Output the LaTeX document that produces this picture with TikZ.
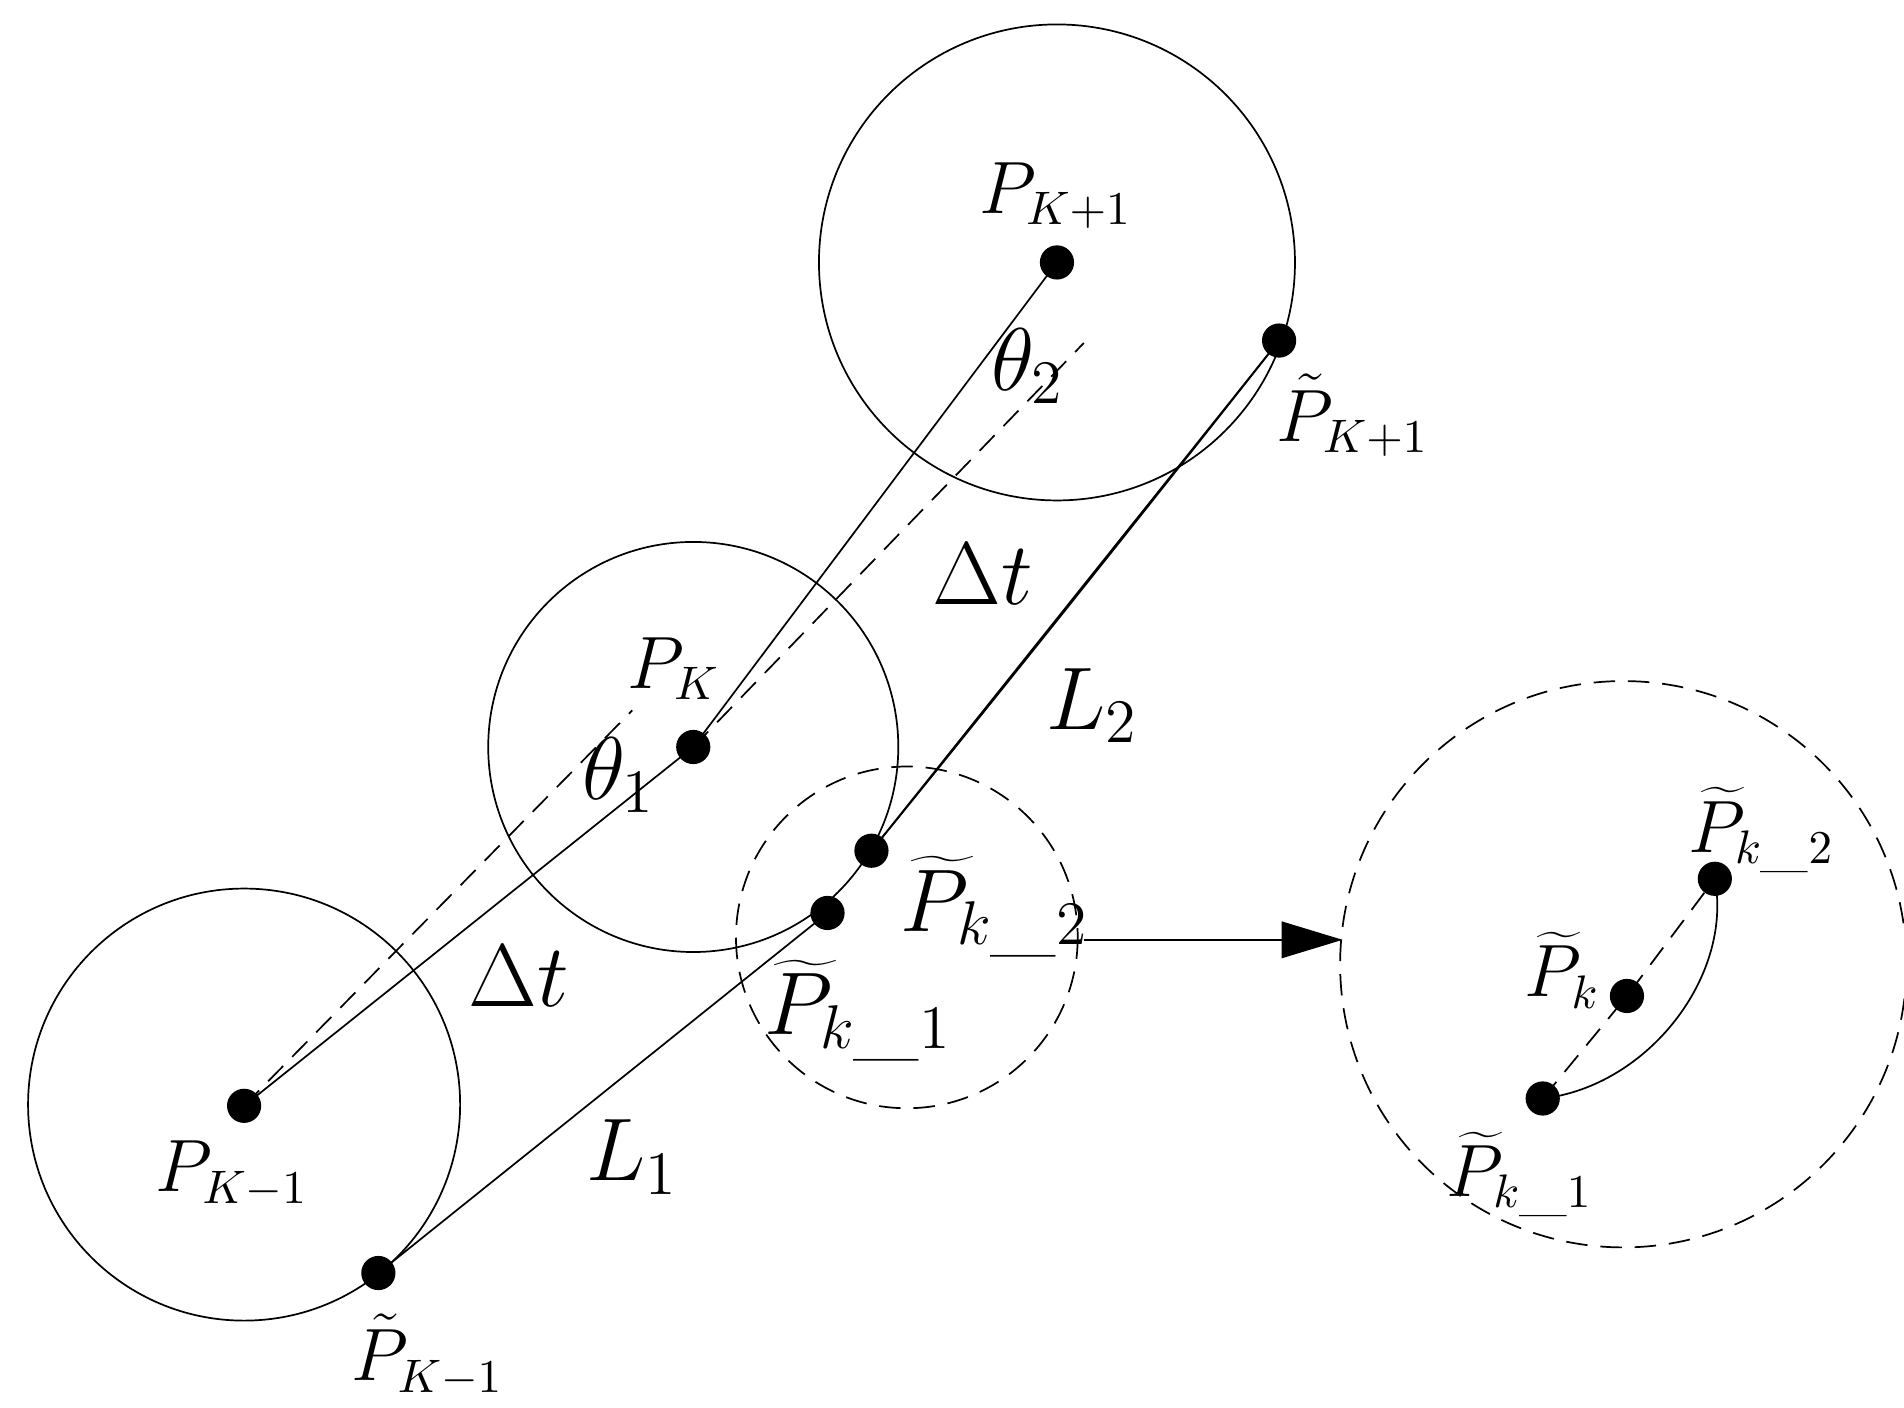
\documentclass[tikz,border=0pt]{standalone}
\usetikzlibrary{arrows.meta}
\begin{document}
\begin{tikzpicture}[x=0.01cm,y=-0.01cm,
  dot/.style={circle,fill=black,inner sep=0pt,minimum size=0.28cm},
  lab/.style={font=\fontsize{16}{19}\selectfont},
  big/.style={font=\fontsize{22}{26}\selectfont},
  dsh/.style={dash pattern=on 5pt off 3pt}]
\useasboundingbox (0,0) rectangle (1560,1153);
\draw (200,905) circle (177);
\draw (568,612) circle (168);
\draw (866,215) circle (195);
\draw[dsh] (743,768) circle (140);
\draw[dsh] (1330,790) circle (232);
\node[dot] (pkm) at (200,906) {};
\node[dot] (pk) at (568,612) {};
\node[dot] (pkp) at (866,215) {};
\node[dot] (tpkp) at (1048,279) {};
\node[dot] (tpkm) at (310,1043) {};
\node[dot] (pk2) at (714,697) {};
\node[dot] (pk1) at (678,748) {};
\node[dot] (rpk2) at (1405,720) {};
\node[dot] (rpk) at (1333,816) {};
\node[dot] (rpk1) at (1264,900) {};
\coordinate (e1) at (518,582);
\coordinate (e2) at (888,281);
\draw (pkm.center) -- (pk.center) -- (pkp.center);
\draw[dsh] (pkm.center) -- (e1);
\draw[dsh] (pk.center) -- (e2);
\draw (tpkm.center) -- (pk1.center);
\draw (pk2.center) -- (tpkp.center);
\draw (pk2.center) .. controls (850,530) and (1000,340) .. (tpkp.center);
\draw[dsh] (rpk1.center) -- (rpk.center) -- (rpk2.center);
\draw (rpk1.center) .. controls (1350,890) and (1420,800) .. (rpk2.center);
\coordinate (as) at (888,770);
\coordinate (ae) at (1100,770);
\draw[-{Triangle[length=0.5cm,width=0.3cm]}] (as) -- (ae);
\node[lab] at (865,160) {$P_{K+1}$};
\node[big] at (842,300) {$\theta_2$};
\node[lab] at (1108,340) {$\tilde P_{K+1}$};
\node[big] at (805,470) {$\Delta t$};
\node[lab] at (552,548) {$P_K$};
\node[big] at (895,578) {$L_2$};
\node[big] at (507,635) {$\theta_1$};
\node[big] at (815,743) {$\widetilde P_{k\mbox{\_}2}$};
\node[big] at (703,828) {$\widetilde P_{k\mbox{\_}1}$};
\node[big] at (425,800) {$\Delta t$};
\node[big] at (518,948) {$L_1$};
\node[lab] at (190,962) {$P_{K-1}$};
\node[lab] at (350,1110) {$\tilde P_{K-1}$};
\node[lab] at (1443,680) {$\widetilde P_{k\mbox{\_}2}$};
\node[lab] at (1280,795) {$\widetilde P_{k}$};
\node[lab] at (1245,962) {$\widetilde P_{k\mbox{\_}1}$};
\end{tikzpicture}
\end{document}
